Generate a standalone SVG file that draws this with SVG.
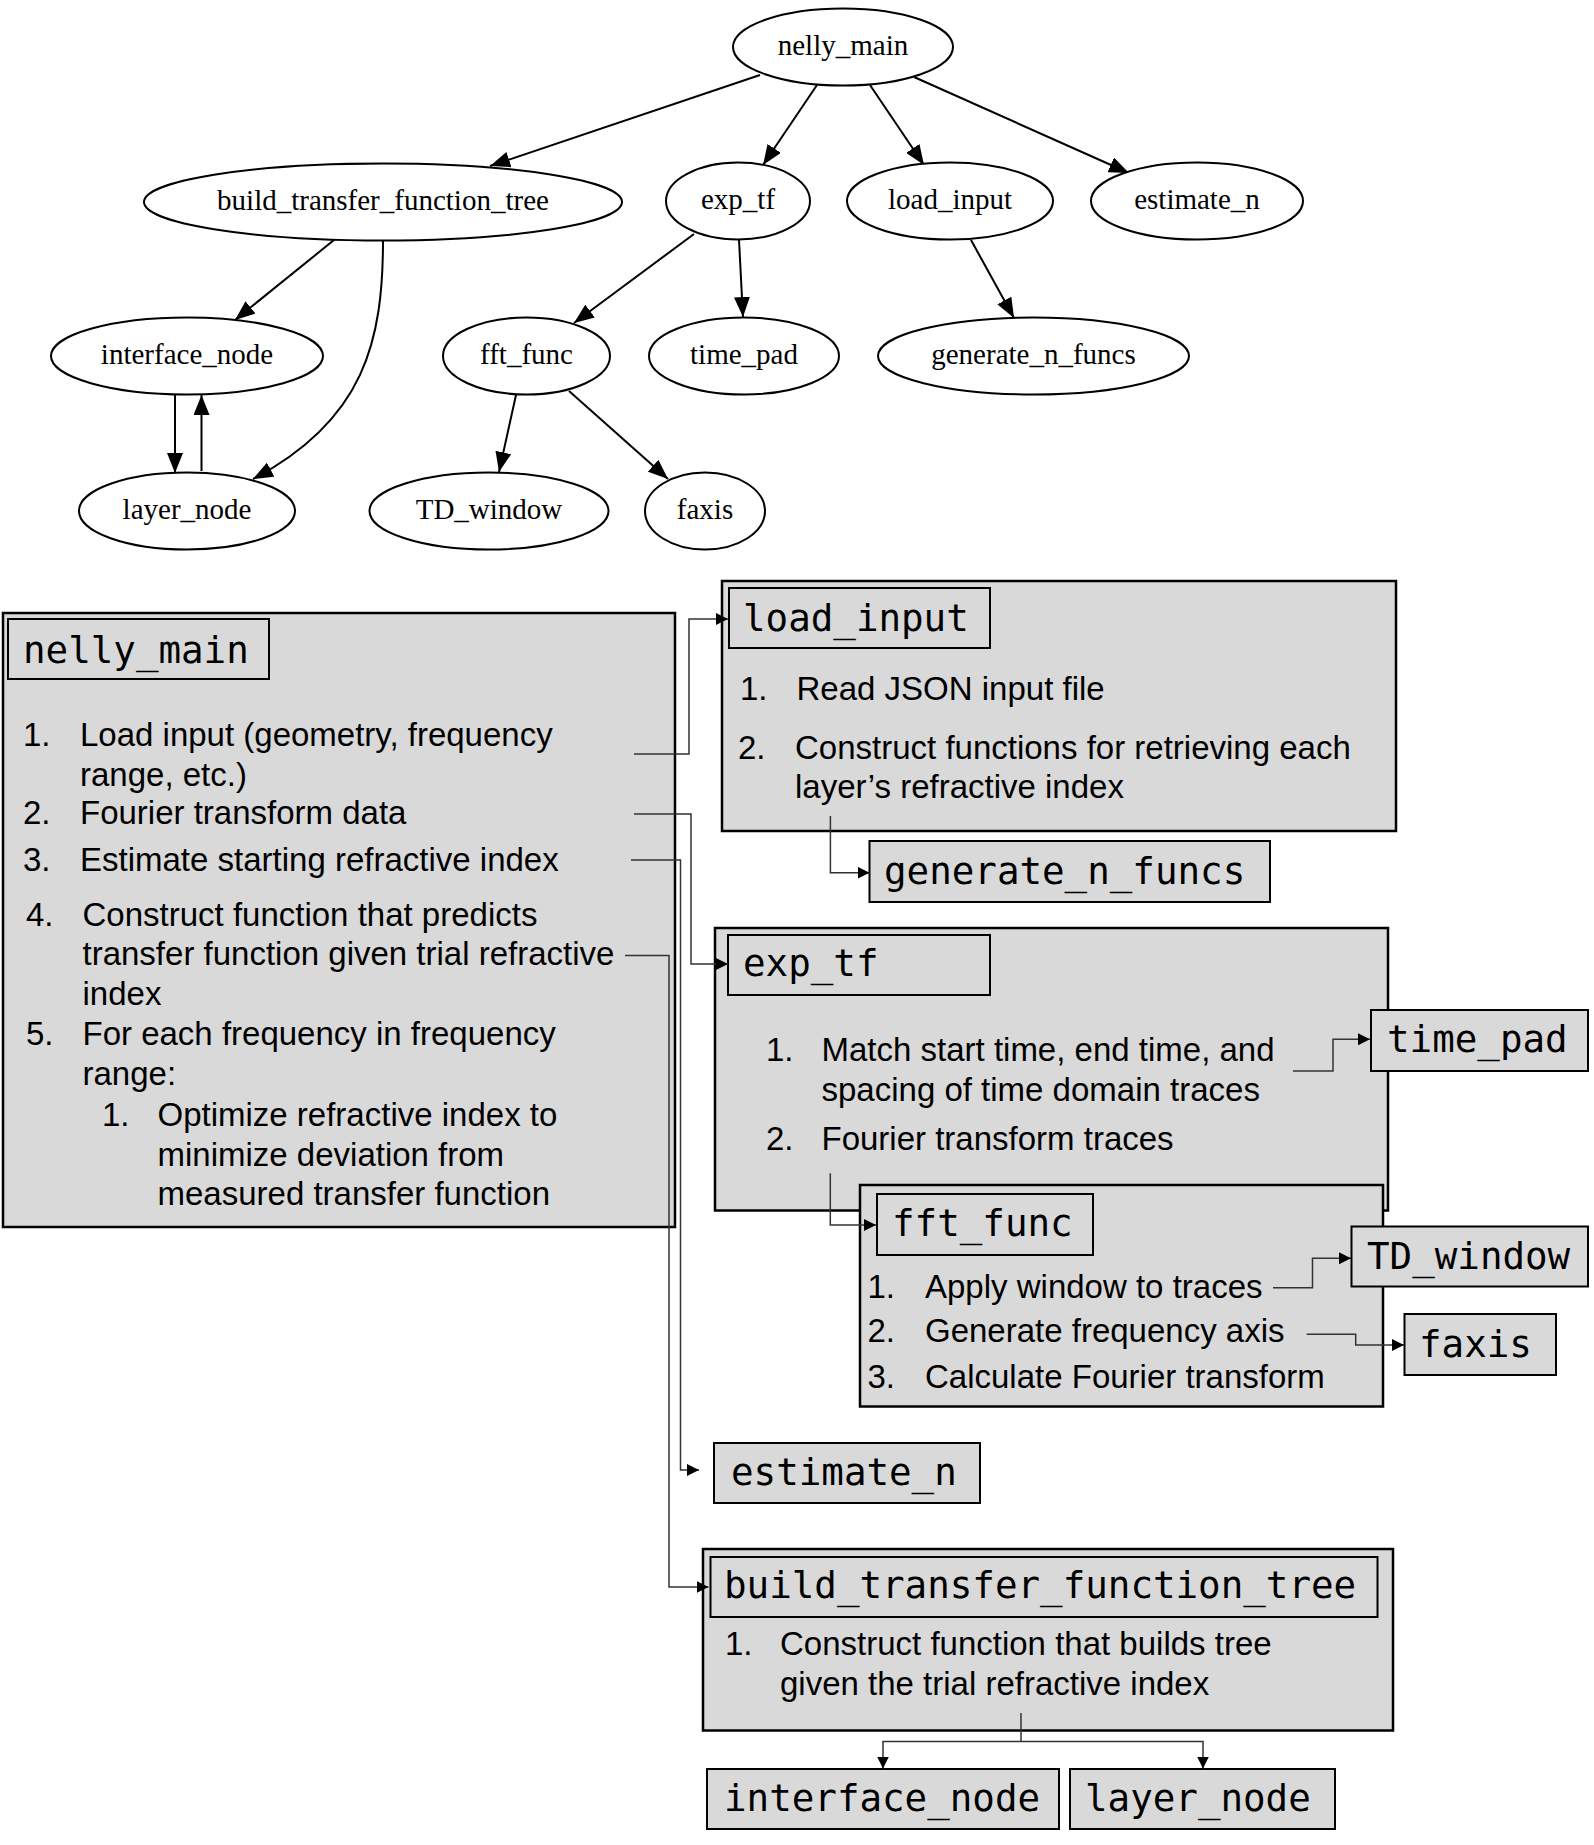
<svg xmlns="http://www.w3.org/2000/svg" width="1594" height="1845" viewBox="0 0 1594 1845">
<style>
.gv ellipse{fill:#fff;stroke:#000;stroke-width:2}
.gv text{font-family:"Liberation Serif","Times New Roman",serif;font-size:29px;text-anchor:middle;fill:#000}
.gve{fill:none;stroke:#000;stroke-width:2}
.box{fill:#d9d9d9;stroke:#000;stroke-width:2.5}
.tbox{fill:#d9d9d9;stroke:#000;stroke-width:2}
.mono{font-family:"DejaVu Sans Mono",monospace;font-size:37.5px;fill:#000}
.body{font-family:"Liberation Sans",Arial,sans-serif;font-size:33px;fill:#000}
.con{fill:none;stroke:#333;stroke-width:1.5}
</style>
<defs>
<marker id="gva" markerUnits="userSpaceOnUse" markerWidth="20" markerHeight="16" refX="20" refY="8" orient="auto"><path d="M0,0 L20,8 L0,16 z" fill="#000"/></marker>
<marker id="sa" markerUnits="userSpaceOnUse" markerWidth="12" markerHeight="12" refX="12" refY="6" orient="auto"><path d="M0,0 L12,6 L0,12 z" fill="#000"/></marker>
</defs>
<rect width="1594" height="1845" fill="#fff"/>

<!-- top graphviz graph -->
<g id="graph-edges" class="gve">
<path d="M760,75 L490,166" marker-end="url(#gva)"/>
<path d="M817,85 L763,165" marker-end="url(#gva)"/>
<path d="M870,85 L924,165" marker-end="url(#gva)"/>
<path d="M914,77 L1129,173" marker-end="url(#gva)"/>
<path d="M334,240 L235,320" marker-end="url(#gva)"/>
<path d="M383,240 C383,340 365,420 253,479" marker-end="url(#gva)"/>
<path d="M175,395 L175,473" marker-end="url(#gva)"/>
<path d="M201.5,471 L201.5,395" marker-end="url(#gva)"/>
<path d="M694,234 L574,323" marker-end="url(#gva)"/>
<path d="M739,240 L743,317" marker-end="url(#gva)"/>
<path d="M971,240 L1014,318" marker-end="url(#gva)"/>
<path d="M516,395 L499,472" marker-end="url(#gva)"/>
<path d="M569,391 L668,479" marker-end="url(#gva)"/>
</g>
<g class="gv">
<g id="gv-nelly_main"><ellipse cx="843" cy="47" rx="110" ry="38.5"/><text x="843" y="55">nelly_main</text></g>
<g id="gv-build_transfer_function_tree"><ellipse cx="383" cy="202" rx="239" ry="38.5"/><text x="383" y="210">build_transfer_function_tree</text></g>
<g id="gv-exp_tf"><ellipse cx="738" cy="201" rx="72" ry="38.5"/><text x="738" y="209">exp_tf</text></g>
<g id="gv-load_input"><ellipse cx="950" cy="201" rx="103" ry="38.5"/><text x="950" y="209">load_input</text></g>
<g id="gv-estimate_n"><ellipse cx="1197" cy="201" rx="106" ry="38.5"/><text x="1197" y="209">estimate_n</text></g>
<g id="gv-interface_node"><ellipse cx="187" cy="356" rx="136" ry="38.5"/><text x="187" y="364">interface_node</text></g>
<g id="gv-fft_func"><ellipse cx="526.5" cy="356" rx="83.5" ry="38.5"/><text x="526.5" y="364">fft_func</text></g>
<g id="gv-time_pad"><ellipse cx="744" cy="356" rx="95" ry="38.5"/><text x="744" y="364">time_pad</text></g>
<g id="gv-generate_n_funcs"><ellipse cx="1033.5" cy="356" rx="155.5" ry="38.5"/><text x="1033.5" y="364">generate_n_funcs</text></g>
<g id="gv-layer_node"><ellipse cx="187" cy="511" rx="108" ry="38.5"/><text x="187" y="519">layer_node</text></g>
<g id="gv-TD_window"><ellipse cx="489" cy="511" rx="119.5" ry="38.5"/><text x="489" y="519">TD_window</text></g>
<g id="gv-faxis"><ellipse cx="705" cy="511" rx="60" ry="38.5"/><text x="705" y="519">faxis</text></g>
</g>

<!-- lower box diagram -->
<g id="box-nelly_main">
<rect class="box" x="3" y="613" width="672" height="614"/>
<rect class="tbox" x="8" y="619" width="261" height="60"/>
<text class="mono" x="23" y="663">nelly_main</text>
<text class="body" x="23" y="746">1.</text>
<text class="body" x="80" y="746">Load input (geometry, frequency</text>
<text class="body" x="80" y="786">range, etc.)</text>
<text class="body" x="23" y="824">2.</text>
<text class="body" x="80" y="824">Fourier transform data</text>
<text class="body" x="23" y="871">3.</text>
<text class="body" x="80" y="871">Estimate starting refractive index</text>
<text class="body" x="26" y="926">4.</text>
<text class="body" x="82.5" y="926">Construct function that predicts</text>
<text class="body" x="82.5" y="965">transfer function given trial refractive</text>
<text class="body" x="82.5" y="1005">index</text>
<text class="body" x="26" y="1045">5.</text>
<text class="body" x="82.5" y="1045">For each frequency in frequency</text>
<text class="body" x="82.5" y="1085">range:</text>
<text class="body" x="102" y="1126">1.</text>
<text class="body" x="157.5" y="1126">Optimize refractive index to</text>
<text class="body" x="157.5" y="1166">minimize deviation from</text>
<text class="body" x="157.5" y="1205">measured transfer function</text>
</g>

<g id="box-load_input">
<rect class="box" x="722" y="581" width="674" height="250"/>
<rect class="tbox" x="729" y="588" width="261" height="60"/>
<text class="mono" x="743" y="631">load_input</text>
<text class="body" x="740" y="700">1.</text>
<text class="body" x="796.5" y="700">Read JSON input file</text>
<text class="body" x="738" y="759">2.</text>
<text class="body" x="795" y="759">Construct functions for retrieving each</text>
<text class="body" x="795" y="798">layer’s refractive index</text>
</g>

<g id="box-generate_n_funcs">
<rect class="tbox" x="869.5" y="841" width="400.5" height="61"/>
<text class="mono" x="884" y="884">generate_n_funcs</text>
</g>

<g id="box-exp_tf">
<rect class="box" x="715" y="928" width="673" height="282.5"/>
<rect class="tbox" x="728" y="935" width="262" height="60"/>
<text class="mono" x="743" y="976">exp_tf</text>
<text class="body" x="766" y="1061">1.</text>
<text class="body" x="821.5" y="1061">Match start time, end time, and</text>
<text class="body" x="821.5" y="1101">spacing of time domain traces</text>
<text class="body" x="766" y="1150">2.</text>
<text class="body" x="821.5" y="1150">Fourier transform traces</text>
</g>

<g id="box-time_pad">
<rect class="tbox" x="1371" y="1010" width="217" height="61"/>
<text class="mono" x="1387" y="1052">time_pad</text>
</g>

<g id="box-fft_func">
<rect class="box" x="860" y="1185" width="523" height="221.5"/>
<rect class="tbox" x="877" y="1194" width="216" height="61"/>
<text class="mono" x="892" y="1236">fft_func</text>
<text class="body" x="867.5" y="1298">1.</text>
<text class="body" x="925" y="1298">Apply window to traces</text>
<text class="body" x="867.5" y="1342">2.</text>
<text class="body" x="925" y="1342">Generate frequency axis</text>
<text class="body" x="867.5" y="1388">3.</text>
<text class="body" x="925" y="1388">Calculate Fourier transform</text>
</g>

<g id="box-TD_window">
<rect class="tbox" x="1351.5" y="1226.5" width="236.5" height="60"/>
<text class="mono" x="1367" y="1269">TD_window</text>
</g>

<g id="box-faxis">
<rect class="tbox" x="1404.5" y="1314" width="151.5" height="61"/>
<text class="mono" x="1419" y="1357">faxis</text>
</g>

<g id="box-estimate_n">
<rect class="tbox" x="714" y="1443" width="266" height="60"/>
<text class="mono" x="731" y="1485">estimate_n</text>
</g>

<g id="box-build_transfer_function_tree">
<rect class="box" x="703" y="1549" width="690" height="181.5"/>
<rect class="tbox" x="710.5" y="1557" width="667" height="60"/>
<text class="mono" x="724" y="1598">build_transfer_function_tree</text>
<text class="body" x="725" y="1655">1.</text>
<text class="body" x="780" y="1655">Construct function that builds tree</text>
<text class="body" x="780" y="1695">given the trial refractive index</text>
</g>

<g id="box-interface_node">
<rect class="tbox" x="707" y="1769" width="352" height="60"/>
<text class="mono" x="724" y="1811">interface_node</text>
</g>

<g id="box-layer_node">
<rect class="tbox" x="1070" y="1769" width="265" height="60"/>
<text class="mono" x="1085" y="1811">layer_node</text>
</g>

<g id="connectors" class="con">
<path d="M634,754 H689 V619 H728" marker-end="url(#sa)"/>
<path d="M634,814 H691 V964 H728" marker-end="url(#sa)"/>
<path d="M631,860 H680.5 V1470 H699" marker-end="url(#sa)"/>
<path d="M625,955.5 H669 V1587 H708.5" marker-end="url(#sa)"/>
<path d="M830.4,816 V872.7 H869.5" marker-end="url(#sa)"/>
<path d="M1293,1071 H1333 V1039.3 H1370" marker-end="url(#sa)"/>
<path d="M830.3,1173.3 V1225 H876" marker-end="url(#sa)"/>
<path d="M1273,1287.7 H1312.5 V1258.3 H1351" marker-end="url(#sa)"/>
<path d="M1306.7,1334.3 H1355.7 V1345 H1404" marker-end="url(#sa)"/>
<path d="M1021,1713 V1741.5"/>
<path d="M1021,1741.5 H883 V1768.5" marker-end="url(#sa)"/>
<path d="M1021,1741.5 H1203 V1768.5" marker-end="url(#sa)"/>
</g>
</svg>
